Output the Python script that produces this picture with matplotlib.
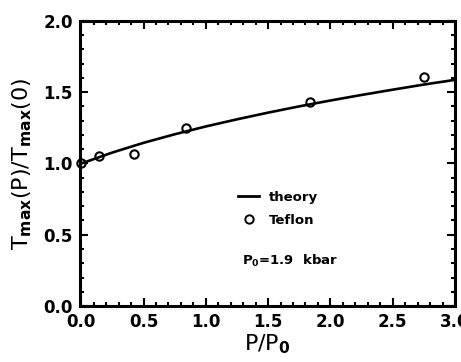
import matplotlib
matplotlib.use("Agg")
import matplotlib.pyplot as plt
from matplotlib.ticker import MultipleLocator
from matplotlib.lines import Line2D

plt.rcParams['font.family'] = ['DejaVu Sans']
plt.rcParams['mathtext.fontset'] = 'dejavusans'
plt.rcParams['mathtext.default'] = 'regular'

# theory curve, read at steps of 0.25 in P/P0
theory_x = [0.0, 0.25, 0.5, 0.75, 1.0, 1.25, 1.5, 1.75, 2.0, 2.25, 2.5, 2.75, 3.0]
theory_y = [1.00, 1.077, 1.145, 1.205, 1.26, 1.31, 1.357, 1.401, 1.442, 1.481, 1.518, 1.554, 1.587]

# Teflon measurements
teflon_x = [0.0, 0.14, 0.42, 0.84, 1.84, 2.75]
teflon_y = [1.00, 1.05, 1.07, 1.25, 1.43, 1.61]

fig = plt.figure(figsize=(4.61, 3.62), dpi=100)
ax = fig.add_axes([80/461, 1-306/362, 375/461, 285/362])

ax.plot(theory_x, theory_y, color='black', lw=1.9, clip_on=False, zorder=3)
ax.plot(teflon_x, teflon_y, 'o', mfc='none', mec='black', mew=1.5, ms=6,
        clip_on=False, zorder=4)

ax.set_xlim(-0.01, 3.0)
ax.set_ylim(0.0, 2.0)
ax.xaxis.set_major_locator(MultipleLocator(0.5))
ax.xaxis.set_minor_locator(MultipleLocator(0.1))
ax.yaxis.set_major_locator(MultipleLocator(0.5))
ax.yaxis.set_minor_locator(MultipleLocator(0.1))
ax.xaxis.set_major_formatter(plt.FormatStrFormatter('%.1f'))
ax.yaxis.set_major_formatter(plt.FormatStrFormatter('%.1f'))

ax.tick_params(which='both', direction='in', top=True, right=True, width=1.5)
ax.tick_params(which='major', length=6, labelsize=12, pad=5)
ax.tick_params(which='minor', length=3)
for lab in ax.get_xticklabels() + ax.get_yticklabels():
    lab.set_fontweight('bold')
for sp in ax.spines.values():
    sp.set_linewidth(2.2)

ax.set_xlabel('P/P$_\\mathbf{0}$', fontsize=16, labelpad=1)
ax.set_ylabel('T$_\\mathbf{max}$(P)/T$_\\mathbf{max}$(0)', fontsize=16, labelpad=7)

handles = [Line2D([], [], color='black', lw=2.0),
           Line2D([], [], marker='o', ls='none', mfc='none', mec='black', mew=1.4, ms=6)]
leg = ax.legend(handles, ['theory', 'Teflon'], loc='upper left',
                bbox_to_anchor=(0.39, 0.445), frameon=False, handlelength=1.6,
                handletextpad=0.7, labelspacing=0.75, prop={'size': 9.5, 'weight': 'bold'})

ax.text(0.432, 0.157, 'P$_\\mathbf{0}$=1.9  kbar', transform=ax.transAxes,
        fontsize=9.5, fontweight='bold', va='center', ha='left')

fig.savefig('out.png', dpi=100)
